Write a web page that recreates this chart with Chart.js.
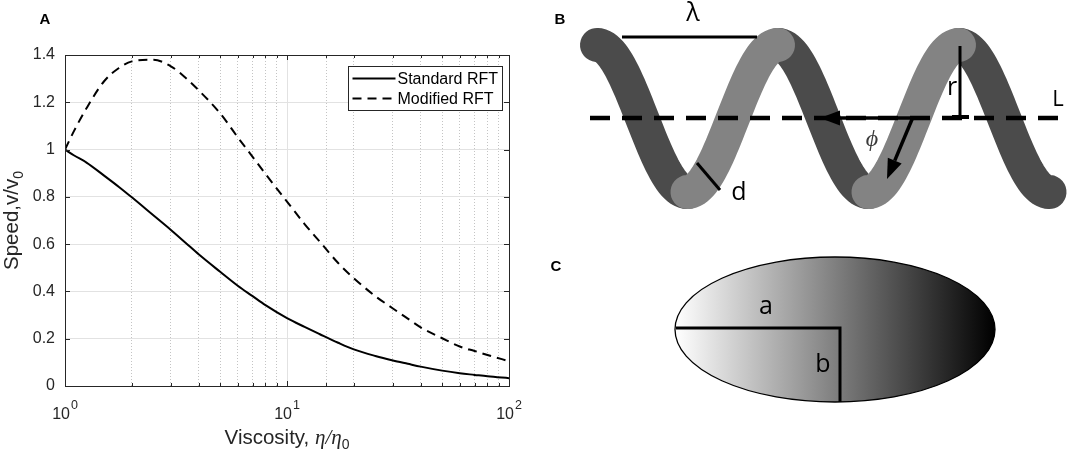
<!DOCTYPE html>
<html>
<head>
<meta charset="utf-8">
<script src="https://cdn.jsdelivr.net/npm/chart.js@4.4.1/dist/chart.umd.min.js"></script>
<style>
  body { margin: 0; background: #fff; }
  #wrap { position: relative; width: 1069px; height: 453px; }
  #box { position: absolute; left: 0; top: 0; width: 540px; height: 453px; }
  #sketch { position: absolute; left: 540px; top: 0; }
</style>
</head>
<body>
<div id="wrap">
  <div id="box"><canvas id="graph"></canvas></div>
  <canvas id="sketch" width="529" height="453"></canvas>
</div>
<script>
// valores (eixo x logaritmico)
const viscosity = [1, 1.1, 1.25, 1.5, 1.75, 2, 2.5, 3, 3.5, 4, 5, 6, 7, 8, 10, 12, 14, 17, 20, 25, 30, 35, 40, 50, 60, 70, 80, 100];
const standardRFT = [1.0, 0.975, 0.945, 0.89, 0.842, 0.798, 0.722, 0.66, 0.605, 0.557, 0.483, 0.424, 0.38, 0.342, 0.287, 0.25, 0.22, 0.183, 0.155, 0.127, 0.108, 0.094, 0.082, 0.065, 0.054, 0.047, 0.041, 0.033];
const modifiedRFT = [1.0, 1.08, 1.175, 1.289, 1.345, 1.373, 1.38, 1.352, 1.303, 1.251, 1.153, 1.052, 0.969, 0.897, 0.78, 0.685, 0.612, 0.52, 0.456, 0.38, 0.328, 0.285, 0.248, 0.202, 0.167, 0.148, 0.131, 0.105];
const seriesNames = ['Standard RFT', 'Modified RFT'];
const yTickStep = 0.2;

const FONT = "'Liberation Sans', Arial, Helvetica, sans-serif";
const INK = '#262626';

const isDecade = (v) => Math.abs(Math.log10(v) - Math.round(Math.log10(v))) < 1e-9;
const toPoints = (ys) => viscosity.map((x, i) => ({ x: x, y: ys[i] }));

// moldura, ticks para dentro, legenda e titulos no estilo MATLAB
const matlabAxes = {
  id: 'matlabAxes',
  afterDraw(chart) {
    const { ctx, chartArea: a, scales: { x, y } } = chart;
    ctx.save();
    ctx.strokeStyle = INK;
    ctx.lineWidth = 1;
    ctx.setLineDash([]);
    ctx.beginPath();
    x.ticks.forEach(t => {
      const px = Math.round(x.getPixelForValue(t.value)) + 0.5;
      const len = isDecade(t.value) ? 5 : 3;
      ctx.moveTo(px, a.bottom); ctx.lineTo(px, a.bottom - len);
      ctx.moveTo(px, a.top); ctx.lineTo(px, a.top + len);
    });
    y.ticks.forEach(t => {
      const py = Math.round(y.getPixelForValue(t.value)) + 0.5;
      ctx.moveTo(a.left, py); ctx.lineTo(a.left + 5, py);
      ctx.moveTo(a.right, py); ctx.lineTo(a.right - 5, py);
    });
    ctx.stroke();
    ctx.strokeRect(Math.round(a.left) + 0.5, Math.round(a.top) + 0.5,
      Math.round(a.right - a.left), Math.round(a.bottom - a.top));

    // rotulos 10^n
    ctx.fillStyle = INK;
    ctx.textBaseline = 'alphabetic';
    ctx.textAlign = 'left';
    x.ticks.filter(t => isDecade(t.value)).forEach(t => {
      const px = x.getPixelForValue(t.value);
      const ex = String(Math.round(Math.log10(t.value)));
      ctx.font = '16px ' + FONT;
      const wb = ctx.measureText('10').width;
      ctx.font = '12.5px ' + FONT;
      const we = ctx.measureText(ex).width;
      const x0 = px - (wb + we + 1) / 2;
      ctx.font = '16px ' + FONT;
      ctx.fillText('10', x0, a.bottom + 32.5);
      ctx.font = '12.5px ' + FONT;
      ctx.fillText(ex, x0 + wb + 1, a.bottom + 22.5);
    });

    // titulo do eixo x
    const parts = [
      { t: 'Viscosity, ', f: '20.5px ' + FONT, dy: 0 },
      { t: 'η/η', f: 'italic 21px "Liberation Serif", "Times New Roman", serif', dy: 0 },
      { t: '0', f: '14px ' + FONT, dy: 5 }
    ];
    let tw = 0;
    parts.forEach(p => { ctx.font = p.f; p.w = ctx.measureText(p.t).width; tw += p.w; });
    let cx = (a.left + a.right) / 2 - tw / 2;
    parts.forEach(p => { ctx.font = p.f; ctx.fillText(p.t, cx, 444 + p.dy); cx += p.w; });

    // titulo do eixo y
    ctx.save();
    ctx.translate(18, (a.top + a.bottom) / 2);
    ctx.rotate(-Math.PI / 2);
    ctx.font = '20.5px ' + FONT;
    const w1 = ctx.measureText('Speed,v/v').width;
    ctx.font = '14px ' + FONT;
    const w2 = ctx.measureText('0').width;
    ctx.font = '20.5px ' + FONT;
    ctx.fillText('Speed,v/v', -(w1 + w2) / 2, 0);
    ctx.font = '14px ' + FONT;
    ctx.fillText('0', -(w1 + w2) / 2 + w1, 5);
    ctx.restore();

    // legenda
    const bw = 154, bh = 44;
    const bx = Math.round(a.right - 7 - bw) + 0.5, by = Math.round(a.top + 11) + 0.5;
    ctx.fillStyle = '#fff';
    ctx.fillRect(bx, by, bw, bh);
    ctx.strokeStyle = INK;
    ctx.strokeRect(bx, by, bw, bh);
    chart.data.datasets.forEach((ds, i) => {
      const ly = by + 12 + i * 20;
      ctx.strokeStyle = '#000';
      ctx.lineWidth = 1.8;
      ctx.setLineDash(ds.borderDash || []);
      ctx.beginPath();
      ctx.moveTo(bx + 4, ly); ctx.lineTo(bx + 47, ly);
      ctx.stroke();
      ctx.setLineDash([]);
      ctx.fillStyle = '#000';
      ctx.font = '16px ' + FONT;
      ctx.textBaseline = 'middle';
      ctx.fillText(ds.label, bx + 49, ly + 1);
    });

    // letra do painel
    ctx.font = 'bold 15px ' + FONT;
    ctx.textAlign = 'center';
    ctx.textBaseline = 'middle';
    ctx.fillStyle = '#000';
    ctx.fillText('A', 45, 20);
    ctx.restore();
  }
};

const ctxGraph = document.getElementById('graph').getContext('2d');

const graph = new Chart(ctxGraph, {
  type: 'line',
  data: {
    datasets: [{
      label: seriesNames[0],
      data: toPoints(standardRFT),
      borderColor: '#000',
      borderWidth: 2,
      pointRadius: 0,
      cubicInterpolationMode: 'monotone',
      fill: false
    }, {
      label: seriesNames[1],
      data: toPoints(modifiedRFT),
      borderColor: '#000',
      borderWidth: 2,
      borderDash: [9, 6],
      pointRadius: 0,
      cubicInterpolationMode: 'monotone',
      fill: false
    }]
  },
  options: {
    responsive: true,
    maintainAspectRatio: false,
    animation: false,
    layout: { padding: { left: 0, top: 55, right: 31, bottom: 0 } },
    plugins: {
      legend: { display: false },
      tooltip: { enabled: false }
    },
    scales: {
      x: {
        type: 'logarithmic',
        min: 1,
        max: 100,
        afterFit: (axis) => { axis.height = 67; },
        ticks: { display: false, autoSkip: false },
        grid: {
          drawTicks: false,
          color: (c) => (c.tick && !isDecade(c.tick.value)) ? '#c4c4c4' : '#e2e2e2',
          lineWidth: 1
        },
        border: {
          display: false,
          dash: (c) => (c.tick && !isDecade(c.tick.value)) ? [1, 2] : []
        }
      },
      y: {
        type: 'linear',
        min: 0,
        max: 1.4,
        afterFit: (axis) => { axis.width = 65; },
        ticks: {
          stepSize: yTickStep,
          padding: 10,
          color: INK,
          font: { family: FONT, size: 16 },
          callback: (v) => String(+v.toFixed(1))
        },
        grid: { drawTicks: false, color: '#e2e2e2', lineWidth: 1 },
        border: { display: false }
      }
    }
  },
  plugins: [matlabAxes]
});

// paineis B e C (ilustracoes)
const sk = document.getElementById('sketch').getContext('2d');
sk.translate(-540, 0);

const hx0 = 597, hP = 181, hA = 73.5, hcy = 118.5;
const helixHalf = (k) => {
  sk.beginPath();
  for (let s = 0; s <= 48; s++) {
    const xx = hx0 + (k + s / 48) * hP / 2;
    const yy = hcy - hA * Math.cos(2 * Math.PI * (xx - hx0) / hP);
    if (s) sk.lineTo(xx, yy); else sk.moveTo(xx, yy);
  }
  sk.stroke();
};
sk.lineCap = 'round';
sk.lineWidth = 34;
sk.strokeStyle = '#4b4b4b';
[0, 2, 4].forEach(helixHalf);
sk.strokeStyle = '#838383';
[1, 3].forEach(helixHalf);

sk.lineCap = 'butt';
sk.strokeStyle = '#000';
sk.fillStyle = '#000';

// eixo L tracejado
sk.lineWidth = 4.5;
sk.setLineDash([20, 12]);
sk.beginPath(); sk.moveTo(590, 118); sk.lineTo(1069, 118); sk.stroke();
sk.setLineDash([]);

// lambda
sk.lineWidth = 3;
sk.beginPath(); sk.moveTo(622, 37); sk.lineTo(757, 37); sk.stroke();

// r
sk.beginPath(); sk.moveTo(960, 46); sk.lineTo(960, 117); sk.stroke();
sk.lineWidth = 4;
sk.beginPath(); sk.moveTo(952, 117); sk.lineTo(969, 117); sk.stroke();

// d
sk.lineWidth = 3;
sk.beginPath(); sk.moveTo(697, 163); sk.lineTo(720, 190); sk.stroke();

const arrow = (x1, y1, x2, y2) => {
  const ang = Math.atan2(y2 - y1, x2 - x1);
  const hl = 20, hw = 7.5;
  const bxp = x2 - hl * Math.cos(ang), byp = y2 - hl * Math.sin(ang);
  sk.lineWidth = 3.5;
  sk.beginPath(); sk.moveTo(x1, y1); sk.lineTo(bxp, byp); sk.stroke();
  sk.beginPath();
  sk.moveTo(x2, y2);
  sk.lineTo(bxp + hw * Math.sin(ang), byp - hw * Math.cos(ang));
  sk.lineTo(bxp - hw * Math.sin(ang), byp + hw * Math.cos(ang));
  sk.closePath(); sk.fill();
};
arrow(915, 118, 820, 118);
arrow(913, 117, 887, 179);

const LBL = "'Open Sans', 'Liberation Sans', sans-serif";
sk.textAlign = 'center';
sk.textBaseline = 'middle';
sk.font = '25px ' + LBL;
sk.fillText('λ', 693, 14);
sk.fillText('d', 739, 193);
sk.fillText('r', 952, 88);
sk.font = '22px ' + LBL;
sk.fillText('L', 1058, 100);
sk.fillStyle = '#3a3a3a';
sk.font = 'italic 24px "Liberation Serif", serif';
sk.fillText('ϕ', 872, 140);
sk.fillStyle = '#000';

// elipse com gradiente
const grad = sk.createLinearGradient(675, 0, 995, 0);
grad.addColorStop(0, '#ffffff');
grad.addColorStop(1, '#000000');
sk.beginPath();
sk.ellipse(835, 329.5, 160, 72.5, 0, 0, Math.PI * 2);
sk.fillStyle = grad;
sk.fill();
sk.lineWidth = 1.3;
sk.strokeStyle = '#000';
sk.stroke();

sk.lineWidth = 3;
sk.beginPath(); sk.moveTo(676, 328); sk.lineTo(840, 328); sk.lineTo(840, 402); sk.stroke();

sk.fillStyle = '#000';
sk.font = '25px ' + LBL;
sk.fillText('a', 766, 307);
sk.fillText('b', 823, 365);

sk.font = 'bold 15px ' + FONT;
sk.fillText('B', 560, 20);
sk.fillText('C', 556, 267);
</script>
</body>
</html>
